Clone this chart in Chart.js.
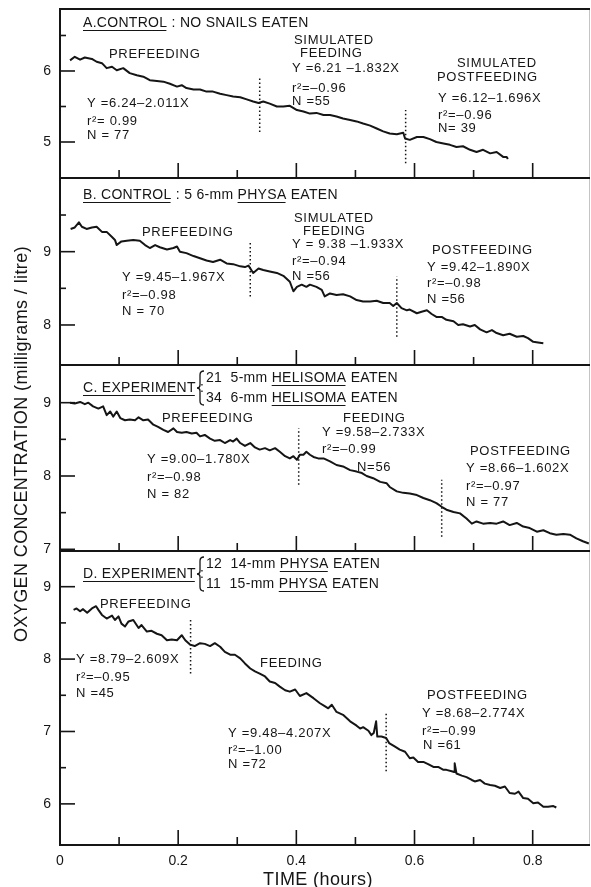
<!DOCTYPE html>
<html>
<head>
<meta charset="utf-8">
<script src="https://cdn.jsdelivr.net/npm/chart.js@4.4.1/dist/chart.umd.min.js"></script>
<style>
  html, body { margin: 0; padding: 0; background: #fff; }
  #wrap { position: relative; width: 591px; height: 887px; }
</style>
</head>
<body>
<div id="wrap"><canvas id="oxygenChart" width="591" height="887"></canvas></div>
<script>
// Oxygen traces for the four feeding trials: [time (h), O2 (mg/l)]
const traceA = [[0.017,6.15],[0.025,6.20],[0.034,6.16],[0.042,6.19],[0.054,6.17],[0.062,6.13],[0.071,6.11],[0.079,6.04],[0.088,6.06],[0.096,6.01],[0.107,6.04],[0.118,5.97],[0.130,5.94],[0.141,5.92],[0.152,5.87],[0.164,5.86],[0.175,5.85],[0.186,5.82],[0.198,5.78],[0.206,5.80],[0.214,5.76],[0.226,5.74],[0.237,5.74],[0.248,5.71],[0.259,5.71],[0.271,5.68],[0.282,5.66],[0.293,5.64],[0.305,5.63],[0.316,5.60],[0.327,5.57],[0.336,5.55],[0.344,5.57],[0.355,5.54],[0.367,5.50],[0.378,5.50],[0.389,5.51],[0.401,5.45],[0.412,5.43],[0.423,5.40],[0.434,5.41],[0.446,5.38],[0.457,5.38],[0.468,5.36],[0.479,5.33],[0.491,5.31],[0.502,5.29],[0.513,5.26],[0.525,5.23],[0.536,5.19],[0.547,5.15],[0.558,5.12],[0.570,5.11],[0.581,5.13],[0.584,5.05],[0.592,5.03],[0.604,5.07],[0.615,5.07],[0.626,5.04],[0.637,5.00],[0.649,4.98],[0.660,4.96],[0.671,4.93],[0.682,4.94],[0.694,4.89],[0.705,4.86],[0.716,4.89],[0.728,4.84],[0.739,4.86],[0.750,4.79],[0.756,4.79],[0.758,4.76]];
const traceB = [[0.018,9.31],[0.025,9.33],[0.032,9.40],[0.037,9.34],[0.045,9.31],[0.054,9.33],[0.062,9.34],[0.071,9.27],[0.079,9.27],[0.088,9.20],[0.093,9.16],[0.096,9.09],[0.104,9.14],[0.113,9.15],[0.124,9.16],[0.135,9.15],[0.144,9.09],[0.152,9.05],[0.161,9.09],[0.169,9.06],[0.181,9.03],[0.192,9.05],[0.198,9.07],[0.203,9.00],[0.214,8.98],[0.226,8.94],[0.237,8.91],[0.248,8.88],[0.259,8.86],[0.271,8.89],[0.282,8.84],[0.293,8.83],[0.305,8.80],[0.313,8.79],[0.319,8.81],[0.327,8.71],[0.336,8.77],[0.344,8.75],[0.355,8.73],[0.367,8.71],[0.378,8.67],[0.389,8.59],[0.395,8.46],[0.401,8.52],[0.409,8.55],[0.417,8.52],[0.423,8.55],[0.434,8.52],[0.443,8.48],[0.448,8.39],[0.457,8.43],[0.468,8.41],[0.479,8.42],[0.491,8.39],[0.502,8.34],[0.513,8.32],[0.525,8.32],[0.536,8.33],[0.547,8.30],[0.558,8.30],[0.564,8.26],[0.570,8.30],[0.578,8.23],[0.587,8.20],[0.592,8.21],[0.604,8.16],[0.612,8.18],[0.621,8.20],[0.629,8.15],[0.637,8.11],[0.646,8.11],[0.654,8.07],[0.666,8.05],[0.674,8.00],[0.682,8.01],[0.694,7.98],[0.702,8.00],[0.711,7.94],[0.722,7.90],[0.731,7.93],[0.739,7.89],[0.750,7.86],[0.761,7.88],[0.773,7.84],[0.784,7.85],[0.792,7.82],[0.801,7.77],[0.809,7.76],[0.818,7.75]];
const traceC = [[0.017,9.00],[0.025,8.99],[0.034,9.01],[0.042,8.98],[0.048,9.00],[0.056,8.95],[0.065,8.92],[0.073,8.95],[0.079,8.83],[0.085,8.88],[0.090,8.81],[0.096,8.88],[0.102,8.79],[0.110,8.76],[0.118,8.77],[0.127,8.76],[0.133,8.80],[0.141,8.76],[0.149,8.77],[0.158,8.70],[0.166,8.67],[0.175,8.63],[0.183,8.60],[0.192,8.65],[0.198,8.60],[0.206,8.59],[0.214,8.60],[0.223,8.58],[0.231,8.59],[0.237,8.54],[0.245,8.56],[0.254,8.51],[0.262,8.48],[0.271,8.49],[0.279,8.45],[0.288,8.49],[0.293,8.47],[0.299,8.51],[0.305,8.45],[0.313,8.41],[0.322,8.45],[0.330,8.39],[0.338,8.36],[0.347,8.38],[0.355,8.35],[0.364,8.38],[0.372,8.33],[0.381,8.27],[0.389,8.24],[0.395,8.27],[0.401,8.22],[0.406,8.29],[0.412,8.29],[0.417,8.33],[0.423,8.29],[0.429,8.26],[0.437,8.24],[0.446,8.24],[0.457,8.20],[0.468,8.15],[0.479,8.13],[0.491,8.08],[0.502,8.06],[0.511,8.04],[0.519,8.00],[0.530,7.97],[0.542,7.92],[0.553,7.90],[0.558,7.85],[0.570,7.79],[0.581,7.77],[0.592,7.76],[0.604,7.74],[0.615,7.70],[0.626,7.67],[0.637,7.63],[0.646,7.58],[0.654,7.54],[0.666,7.51],[0.677,7.49],[0.688,7.42],[0.697,7.35],[0.705,7.38],[0.716,7.35],[0.728,7.36],[0.739,7.35],[0.750,7.38],[0.761,7.33],[0.773,7.36],[0.784,7.31],[0.795,7.29],[0.807,7.24],[0.818,7.26],[0.829,7.22],[0.840,7.20],[0.852,7.21],[0.863,7.20],[0.874,7.15],[0.885,7.11],[0.895,7.08]];
const traceD = [[0.023,8.68],[0.028,8.70],[0.034,8.66],[0.039,8.69],[0.046,8.64],[0.054,8.70],[0.061,8.73],[0.065,8.68],[0.071,8.61],[0.079,8.56],[0.088,8.60],[0.093,8.54],[0.099,8.59],[0.104,8.49],[0.110,8.45],[0.116,8.52],[0.124,8.54],[0.133,8.43],[0.138,8.47],[0.147,8.38],[0.155,8.39],[0.164,8.35],[0.172,8.33],[0.181,8.26],[0.189,8.27],[0.198,8.26],[0.206,8.33],[0.212,8.26],[0.220,8.20],[0.228,8.18],[0.237,8.22],[0.245,8.21],[0.254,8.18],[0.262,8.22],[0.271,8.17],[0.279,8.10],[0.288,8.06],[0.296,8.06],[0.305,8.01],[0.313,7.94],[0.322,7.87],[0.330,7.83],[0.338,7.80],[0.347,7.76],[0.355,7.69],[0.364,7.67],[0.372,7.62],[0.381,7.57],[0.389,7.55],[0.398,7.58],[0.406,7.49],[0.417,7.53],[0.429,7.46],[0.440,7.39],[0.448,7.35],[0.454,7.32],[0.460,7.37],[0.468,7.27],[0.479,7.23],[0.491,7.14],[0.502,7.08],[0.508,7.04],[0.513,7.06],[0.522,7.01],[0.527,6.95],[0.531,6.98],[0.535,7.14],[0.537,6.93],[0.544,6.93],[0.552,6.91],[0.557,6.84],[0.567,6.79],[0.575,6.75],[0.584,6.72],[0.592,6.63],[0.598,6.64],[0.606,6.58],[0.615,6.58],[0.623,6.55],[0.632,6.51],[0.640,6.51],[0.649,6.47],[0.654,6.47],[0.663,6.45],[0.667,6.44],[0.668,6.56],[0.671,6.42],[0.680,6.39],[0.688,6.37],[0.697,6.33],[0.702,6.31],[0.711,6.33],[0.719,6.28],[0.728,6.26],[0.736,6.25],[0.745,6.22],[0.753,6.24],[0.761,6.15],[0.770,6.14],[0.776,6.17],[0.784,6.08],[0.792,6.07],[0.801,6.01],[0.809,6.02],[0.818,5.96],[0.826,5.96],[0.835,5.97],[0.840,5.95]];

// phase boundaries: [time, low O2, high O2]
const splitsA = [[0.338, 5.14, 5.92], [0.585, 4.70, 5.45]];
const splitsB = [[0.322, 8.39, 9.14], [0.570, 7.84, 8.66]];
const splitsC = [[0.404, 7.88, 8.65], [0.646, 7.17, 7.95]];
const splitsD = [[0.221, 7.80, 8.56], [0.552, 6.45, 7.25]];

// axis ranges and ticks
const timeLabels = [0, 0.2, 0.4, 0.6, 0.8];
const timeMajor = [0.2, 0.4, 0.6, 0.8];
const timeMinor = [0.1, 0.3, 0.5, 0.7];
const rangeA = [4.493, 6.873], rangeB = [7.454, 10.005], rangeC = [6.977, 9.514], rangeD = [5.432, 9.493];
const labelsA = [5, 6], labelsB = [8, 9], labelsC = [7, 8, 9], labelsD = [6, 7, 8, 9];
const minorA = [5.5, 6.5], minorB = [8.5, 9.5], minorC = [7.5, 8.5], minorD = [6.5, 7.5, 8.5];

const FONT = '"Liberation Sans", Arial, sans-serif';
const INK = '#151515';

// panel heights in px (stack weights), top to bottom
const panels = [
  {id: 'yA', range: rangeA, labels: labelsA, minor: minorA, weight: 169},
  {id: 'yB', range: rangeB, labels: labelsB, minor: minorB, weight: 187},
  {id: 'yC', range: rangeC, labels: labelsC, minor: minorC, weight: 186},
  {id: 'yD', range: rangeD, labels: labelsD, minor: minorD, weight: 294}
];

// annotations: [x, y, text, size]; _text_ is underlined
const notes = [
  [83, 23, '_A.CONTROL_ : NO SNAILS EATEN', 14],
  [109, 54, 'PREFEEDING'],
  [87, 103, 'Y =6.24–2.011X'],
  [87, 121, 'r²= 0.99'],
  [87, 135, 'N = 77'],
  [294, 40, 'SIMULATED'],
  [300, 53, 'FEEDING'],
  [292, 68, 'Y =6.21 –1.832X'],
  [292, 88, 'r²=–0.96'],
  [292, 101, 'N =55'],
  [457, 63, 'SIMULATED'],
  [437, 77, 'POSTFEEDING'],
  [438, 98, 'Y =6.12–1.696X'],
  [438, 115, 'r²=–0.96'],
  [438, 128, 'N= 39'],

  [83, 195, '_B. CONTROL_ : 5 6-mm _PHYSA_ EATEN', 14],
  [142, 232, 'PREFEEDING'],
  [122, 277, 'Y =9.45–1.967X'],
  [122, 295, 'r²=–0.98'],
  [122, 311, 'N = 70'],
  [294, 218, 'SIMULATED'],
  [303, 231, 'FEEDING'],
  [292, 244, 'Y = 9.38 –1.933X'],
  [292, 261, 'r²=–0.94'],
  [292, 276, 'N =56'],
  [432, 250, 'POSTFEEDING'],
  [427, 267, 'Y =9.42–1.890X'],
  [427, 283, 'r²=–0.98'],
  [427, 299, 'N =56'],

  [83, 388, '_C. EXPERIMENT_ :', 14],
  [206, 378, '21  5-mm _HELISOMA_ EATEN', 14],
  [206, 398, '34  6-mm _HELISOMA_ EATEN', 14],
  [162, 418, 'PREFEEDING'],
  [147, 459, 'Y =9.00–1.780X'],
  [147, 477, 'r²=–0.98'],
  [147, 494, 'N = 82'],
  [343, 418, 'FEEDING'],
  [322, 432, 'Y =9.58–2.733X'],
  [322, 449, 'r²=–0.99'],
  [357, 467, 'N=56'],
  [470, 451, 'POSTFEEDING'],
  [466, 468, 'Y =8.66–1.602X'],
  [466, 486, 'r²=–0.97'],
  [466, 502, 'N = 77'],

  [83, 574, '_D. EXPERIMENT_ :', 14],
  [206, 564, '12  14-mm _PHYSA_ EATEN', 14],
  [206, 584, '11  15-mm _PHYSA_ EATEN', 14],
  [100, 604, 'PREFEEDING'],
  [76, 659, 'Y =8.79–2.609X'],
  [76, 677, 'r²=–0.95'],
  [76, 693, 'N =45'],
  [260, 663, 'FEEDING'],
  [228, 733, 'Y =9.48–4.207X'],
  [228, 750, 'r²=–1.00'],
  [228, 764, 'N =72'],
  [427, 695, 'POSTFEEDING'],
  [422, 713, 'Y =8.68–2.774X'],
  [422, 731, 'r²=–0.99'],
  [423, 745, 'N =61']
];
// braces in front of the two-line snail lists: [x, top, bottom]
const braces = [[200, 371, 405], [200, 557, 591]];

function seg(ctx, x1, y1, x2, y2) {
  ctx.beginPath(); ctx.moveTo(x1, y1); ctx.lineTo(x2, y2); ctx.stroke();
}

function drawNote(ctx, x, y, text, size) {
  ctx.font = size + 'px ' + FONT;
  ctx.letterSpacing = size >= 14 ? '0.3px' : '0.7px';
  let cx = x;
  text.split('_').forEach((part, i) => {
    if (!part) return;
    ctx.fillText(part, cx, y);
    const w = ctx.measureText(part).width;
    if (i % 2 === 1) {
      ctx.lineWidth = 1.2;
      seg(ctx, cx, y + 7.5, cx + w - 1, y + 7.5);
    }
    cx += w;
  });
}

function drawBrace(ctx, x, top, bottom) {
  const mid = (top + bottom) / 2;
  ctx.lineWidth = 1.3;
  ctx.beginPath();
  ctx.moveTo(x + 4, top);
  ctx.quadraticCurveTo(x, top, x, top + 4);
  ctx.lineTo(x, mid - 3);
  ctx.quadraticCurveTo(x, mid, x - 3, mid);
  ctx.quadraticCurveTo(x, mid, x, mid + 3);
  ctx.lineTo(x, bottom - 4);
  ctx.quadraticCurveTo(x, bottom, x + 4, bottom);
  ctx.stroke();
}

const framePlugin = {
  id: 'frame',
  afterDraw(chart) {
    const {ctx, chartArea: area, scales} = chart;
    const xs = scales.x;
    ctx.save();
    // faint right edge of the plate
    ctx.strokeStyle = '#c4c4c4';
    ctx.lineWidth = 1;
    seg(ctx, area.right - 0.5, area.top, area.right - 0.5, area.bottom);

    ctx.strokeStyle = INK;
    ctx.lineWidth = 2;
    seg(ctx, area.left, area.top - 1, area.left, area.bottom + 1);
    seg(ctx, area.left, area.top, area.right, area.top);
    panels.forEach(p => {
      const ys = scales[p.id];
      ctx.lineWidth = 2;
      seg(ctx, area.left, ys.bottom, area.right, ys.bottom);
      ctx.lineWidth = 1.6;
      timeMajor.forEach(t => { const px = xs.getPixelForValue(t); seg(ctx, px, ys.bottom, px, ys.bottom - 15); });
      timeMinor.forEach(t => { const px = xs.getPixelForValue(t); seg(ctx, px, ys.bottom, px, ys.bottom - 8); });
      p.labels.forEach(v => { const py = ys.getPixelForValue(v); seg(ctx, area.left, py, area.left + 15, py); });
      p.minor.forEach(v => { const py = ys.getPixelForValue(v); seg(ctx, area.left, py, area.left + 6, py); });
    });

    // annotations
    ctx.fillStyle = INK;
    ctx.textBaseline = 'middle';
    ctx.textAlign = 'left';
    notes.forEach(([x, y, text, size]) => drawNote(ctx, x, y, text, size || 13));
    braces.forEach(([x, t, b]) => drawBrace(ctx, x, t, b));

    // axis titles
    ctx.letterSpacing = '0.4px';
    ctx.font = '18px ' + FONT;
    ctx.textAlign = 'center';
    ctx.fillText('TIME (hours)', 318, 880);
    ctx.translate(22, 444);
    ctx.rotate(-Math.PI / 2);
    ctx.fillText('OXYGEN CONCENTRATION (milligrams / litre)', 0, 0);
    ctx.restore();
  }
};

function levelAxis(p, order) {
  return {
    type: 'linear',
    position: 'left',
    stack: 'trials',
    stackWeight: p.weight,
    weight: order,
    min: p.range[0],
    max: p.range[1],
    afterFit: s => { s.width = 60; s.paddingTop = 0; s.paddingBottom = 0; },
    afterBuildTicks: s => { s.ticks = p.labels.map(v => ({value: v})); },
    grid: {display: false, drawTicks: false},
    border: {display: false},
    ticks: {autoSkip: false, padding: 9, color: INK, font: {family: FONT, size: 14}, callback: v => String(v)}
  };
}

function traceSet(trace, axis) {
  return {
    data: trace.map(([x, y]) => ({x, y})),
    yAxisID: axis,
    borderColor: INK,
    borderWidth: 2,
    borderJoinStyle: 'round',
    pointRadius: 0,
    tension: 0
  };
}

function splitSets(splits, axis) {
  return splits.map(([t, lo, hi]) => ({
    data: [{x: t, y: lo}, {x: t, y: hi}],
    yAxisID: axis,
    borderColor: INK,
    borderWidth: 1.5,
    borderDash: [1.5, 2.5],
    pointRadius: 0
  }));
}

const scales = {
  x: {
    type: 'linear',
    min: 0,
    max: 0.897,
    afterFit: s => { s.height = 42; s.paddingLeft = 0; s.paddingRight = 0; },
    afterBuildTicks: s => { s.ticks = timeLabels.map(v => ({value: v})); },
    grid: {display: false, drawTicks: false},
    border: {display: false},
    ticks: {autoSkip: false, padding: 8, color: INK, font: {family: FONT, size: 14}, callback: v => String(v)}
  }
};
panels.forEach((p, i) => { scales[p.id] = levelAxis(p, panels.length - i); });

new Chart(document.getElementById('oxygenChart'), {
  type: 'line',
  data: {
    datasets: [
      traceSet(traceA, 'yA'), traceSet(traceB, 'yB'), traceSet(traceC, 'yC'), traceSet(traceD, 'yD'),
      ...splitSets(splitsA, 'yA'), ...splitSets(splitsB, 'yB'), ...splitSets(splitsC, 'yC'), ...splitSets(splitsD, 'yD')
    ]
  },
  options: {
    responsive: false,
    animation: false,
    layout: {autoPadding: false, padding: {top: 9, right: 1, bottom: 0, left: 0}},
    scales: scales,
    plugins: {legend: {display: false}, tooltip: {enabled: false}}
  },
  plugins: [framePlugin]
});
</script>
</body>
</html>
